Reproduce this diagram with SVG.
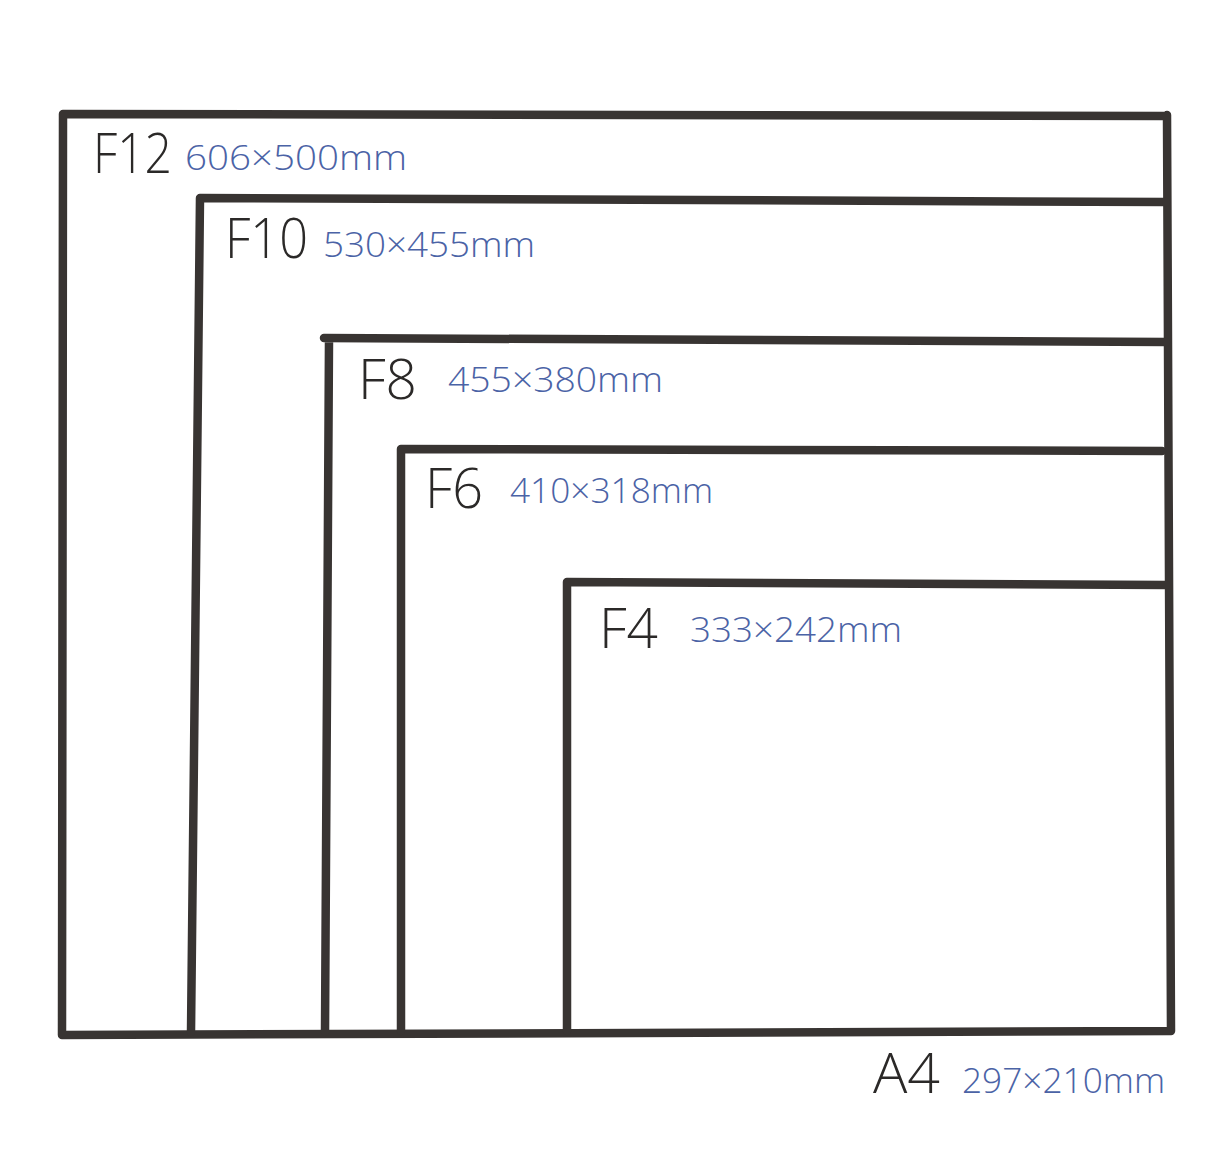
<svg xmlns="http://www.w3.org/2000/svg" width="1220" height="1149" viewBox="0 0 1220 1149">
<style>
.ln{stroke:#383432;stroke-width:8.5;stroke-linecap:round;stroke-linejoin:round;fill:none}
.nm{font-family:"Open Sans","Liberation Sans",Arial,sans-serif;font-weight:300;font-size:56px;fill:#2b2928}
.sz{font-family:"Open Sans","Liberation Sans",Arial,sans-serif;font-weight:300;font-size:34px;fill:#4b63a6}
</style>
<rect width="1220" height="1149" fill="#ffffff"/>
<g id="F12">
<path class="ln" d="M63,114 L1166,116 M1167,115 L1171,1031 L62,1035 L63,114"/>
<text class="nm" x="93" y="173" textLength="79" lengthAdjust="spacingAndGlyphs">F12</text>
<text class="sz" x="185" y="170" textLength="222" lengthAdjust="spacingAndGlyphs">606×500mm</text>
</g>
<g id="F10">
<path class="ln" d="M1166,202 L200,198 L191,1032"/>
<text class="nm" x="225" y="258" textLength="83" lengthAdjust="spacingAndGlyphs">F10</text>
<text class="sz" x="323" y="257" textLength="212" lengthAdjust="spacingAndGlyphs">530×455mm</text>
</g>
<g id="F8">
<path class="ln" d="M1166,342 L324,338 M329,340 L325,1032"/>
<text class="nm" x="358" y="399" textLength="59" lengthAdjust="spacingAndGlyphs">F8</text>
<text class="sz" x="448" y="392" textLength="215" lengthAdjust="spacingAndGlyphs">455×380mm</text>
</g>
<g id="F6">
<path class="ln" d="M1162,451 L401,449 L401,1031"/>
<text class="nm" x="425" y="508" textLength="58" lengthAdjust="spacingAndGlyphs">F6</text>
<text class="sz" x="510" y="503" textLength="203" lengthAdjust="spacingAndGlyphs">410×318mm</text>
</g>
<g id="F4">
<path class="ln" d="M1166,585 L567,582 L567,1031"/>
<text class="nm" x="599" y="648" textLength="59" lengthAdjust="spacingAndGlyphs">F4</text>
<text class="sz" x="690" y="642" textLength="212" lengthAdjust="spacingAndGlyphs">333×242mm</text>
</g>
<g id="A4">
<text class="nm" x="873" y="1093" textLength="67" lengthAdjust="spacingAndGlyphs">A4</text>
<text class="sz" x="962" y="1093" textLength="203" lengthAdjust="spacingAndGlyphs">297×210mm</text>
</g>
<g id="connectors"></g>
</svg>
